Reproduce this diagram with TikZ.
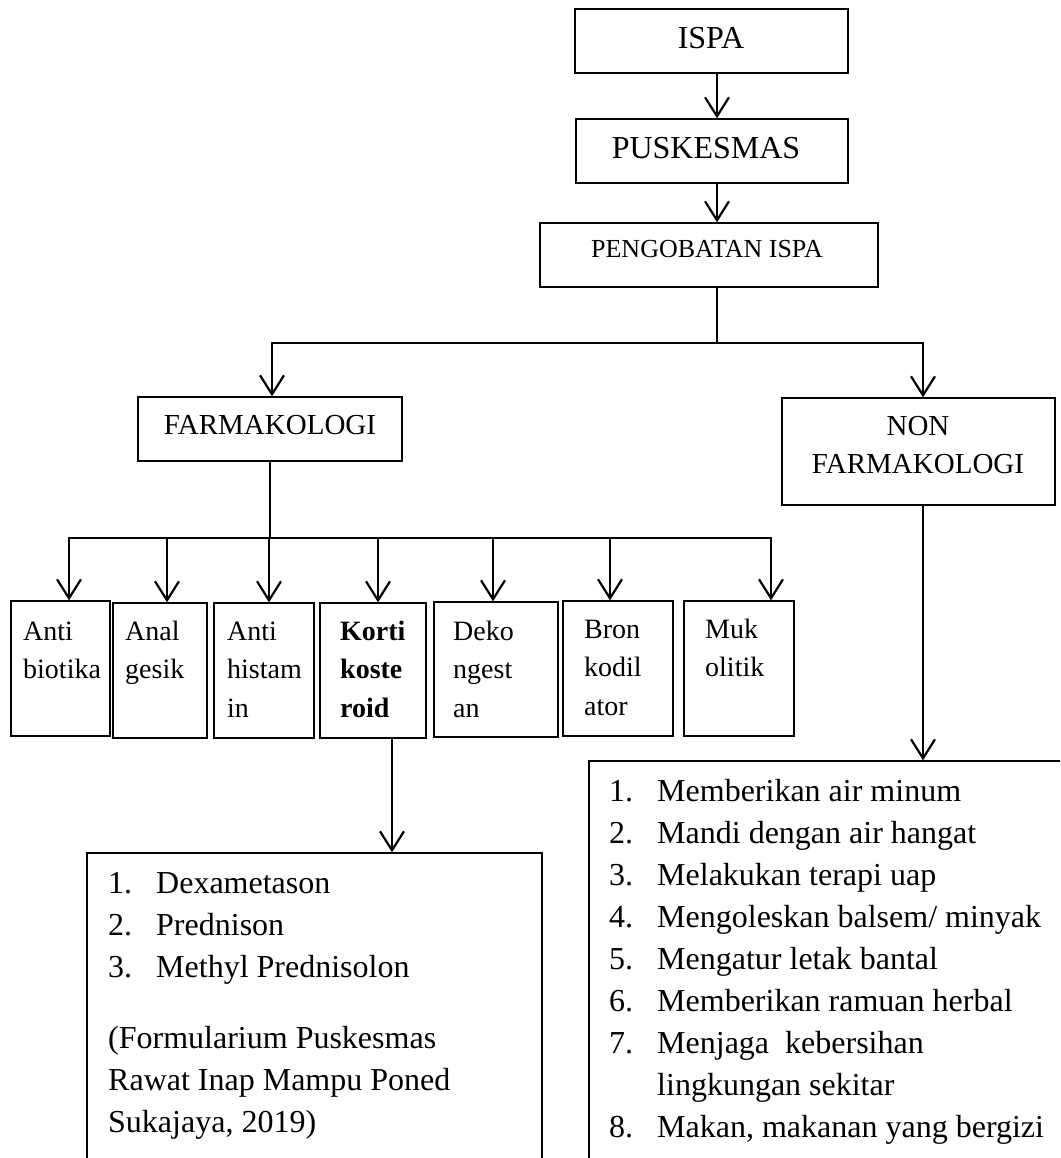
\documentclass[tikz,border=0pt]{standalone}
\usepackage{fontspec}
\setmainfont{Liberation Serif}
\usetikzlibrary{arrows.meta,fit,calc}
\begin{document}
\begin{tikzpicture}[x=1pt,y=-1pt,
  box/.style={draw, line width=1.3pt, inner sep=0pt},
  conn/.style={line width=2.4pt},
  arr/.style={conn, -{Straight Barb[length=19pt,width=24pt,line width=2.2pt]}},
  big/.style={anchor=base, inner sep=0pt, font=\fontsize{32}{38}\selectfont},
  mid/.style={anchor=base, inner sep=0pt, align=center, font=\fontsize{29}{38}\selectfont},
  small/.style={anchor=base west, inner sep=0pt, align=left, font=\fontsize{28}{38.5}\selectfont},
  list/.style={anchor=base west, inner sep=0pt, align=left, font=\fontsize{32}{42}\selectfont}
]
\path[use as bounding box, clip] (0,0) rectangle (1060,1158);
\fill[white] (0,0) rectangle (1060,1158);

% top chain
\node[box, fit={(575,9) (848,73)}] (ispa) {};
\node[big] (tispa) at (711,49) {ISPA};
\node[box, fit={(576,119) (848,183)}] (pusk) {};
\node[big] (tpusk) at (706,159) {PUSKESMAS};
\node[box, fit={(540,223) (878,287)}] (peng) {};
\node[anchor=base, inner sep=0pt, font=\fontsize{26}{30}\selectfont] (tpeng) at (707,258) {PENGOBATAN ISPA};

\node[box, fit={(138,397) (402,461)}] (farm) {};
\node[mid] (tfarm) at (270,434) {FARMAKOLOGI};
\node[box, fit={(782,398) (1055,505)}] (nonf) {};
\node[mid] (tnonf) at (918,473) {NON\\FARMAKOLOGI};

% small boxes
\node[box, fit={(11,601) (110,736)}] (s1) {};
\node[box, fit={(113,603) (207,738)}] (s2) {};
\node[box, fit={(214,603) (314,738)}] (s3) {};
\node[box, fit={(320,603) (426,738)}] (s4) {};
\node[box, fit={(434,602) (558,737)}] (s5) {};
\node[box, fit={(563,601) (673,736)}] (s6) {};
\node[box, fit={(684,601) (794,736)}] (s7) {};
\node[small] (t1) at (23,678.5) {Anti\\biotika};
\node[small] (t2) at (125,678.5) {Anal\\gesik};
\node[small] (t3) at (227,717) {Anti\\histam\\in};
\node[small, font=\fontsize{28}{38.5}\selectfont\bfseries] (t4) at (340,717) {Korti\\koste\\roid};
\node[small] (t5) at (453,717) {Deko\\ngest\\an};
\node[small] (t6) at (584,715) {Bron\\kodil\\ator};
\node[small] (t7) at (705,676.5) {Muk\\olitik};

% bottom boxes
\node[box, fit={(87,853) (542,1200)}] (lbox) {};
\node[list] (tl) at (108,977) {\makebox[48pt][l]{1.}Dexametason\\\makebox[48pt][l]{2.}Prednison\\\makebox[48pt][l]{3.}Methyl Prednisolon};
\node[list] (tc) at (108,1132) {(Formularium Puskesmas\\Rawat Inap Mampu Poned\\Sukajaya, 2019)};
\node[box, fit={(589,761) (1100,1200)}] (rbox) {};
\node[list] (tr) at (609,1137) {\makebox[48pt][l]{1.}Memberikan air minum\\
\makebox[48pt][l]{2.}Mandi dengan air hangat\\
\makebox[48pt][l]{3.}Melakukan terapi uap\\
\makebox[48pt][l]{4.}Mengoleskan balsem/ minyak\\
\makebox[48pt][l]{5.}Mengatur letak bantal\\
\makebox[48pt][l]{6.}Memberikan ramuan herbal\\
\makebox[48pt][l]{7.}Menjaga\ \ kebersihan\\
\hspace*{48pt}lingkungan sekitar\\
\makebox[48pt][l]{8.}Makan, makanan yang bergizi};

% coordinates
\coordinate (cx) at (717,0);
\coordinate (j1) at (717,343);
\coordinate (jl) at (272,343);
\coordinate (jr) at (923,343);
\coordinate (b0) at (270,538);
\coordinate (d1) at (69,538);
\coordinate (d2) at (167,538);
\coordinate (d3) at (269,538);
\coordinate (d4) at (378,538);
\coordinate (d5) at (493,538);
\coordinate (d6) at (610,538);
\coordinate (d7) at (771,538);
\coordinate (k) at (392,0);

% connectors
\draw[arr] (ispa.south -| cx) -- (pusk.north -| cx);
\draw[arr] (pusk.south -| cx) -- (peng.north -| cx);
\draw[arr] (j1) -- (jl) -- (jl |- farm.north);
\draw[arr] (peng.south -| j1) -- (j1) -- (jr) -- (jr |- nonf.north);
\draw[conn] (farm.south -| b0) -- (b0);
\draw[arr] (d2) -- (d1) -- (d1 |- s1.north);
\draw[arr] (d6) -- (d7) -- (d7 |- s7.north);
\draw[conn] (d1) -- (d7);
\draw[arr] (d2) -- (d2 |- s2.north);
\draw[arr] (d3) -- (d3 |- s3.north);
\draw[arr] (d4) -- (d4 |- s4.north);
\draw[arr] (d5) -- (d5 |- s5.north);
\draw[arr] (d6) -- (d6 |- s6.north);
\draw[arr] (s4.south -| k) -- (lbox.north -| k);
\draw[arr] (nonf.south -| jr) -- (rbox.north -| jr);
\end{tikzpicture}
\end{document}
